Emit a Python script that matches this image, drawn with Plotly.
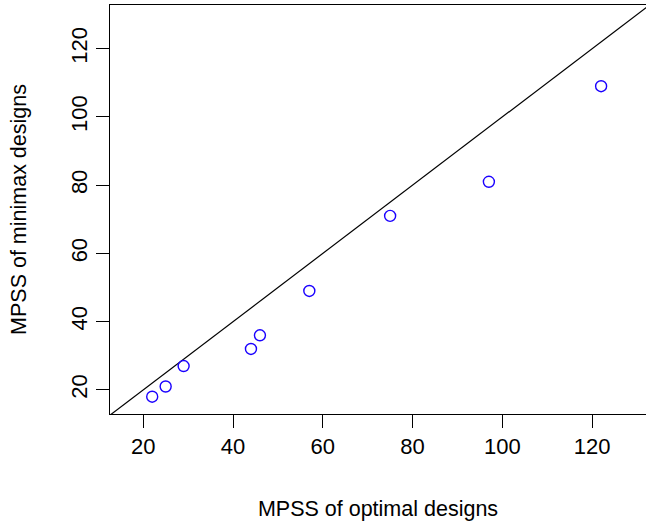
import plotly.graph_objects as go

# MPSS values: optimal designs (x) vs minimax designs (y)
mpss_optimal = [22, 25, 29, 44, 46, 57, 75, 97, 122]
mpss_minimax = [18, 21, 27, 32, 36, 49, 71, 81, 109]

x_range = [12.6, 132.0]
y_range = [12.94, 132.8]
tick_vals = [20, 40, 60, 80, 100, 120]

font_family = "Liberation Sans, Arial, sans-serif"

fig = go.Figure()

# identity reference line y = x spanning the plotting region
lo = min(x_range[0], y_range[0]) - 5
hi = max(x_range[1], y_range[1]) + 5
fig.add_trace(go.Scatter(
    x=[lo, hi], y=[lo, hi], mode="lines",
    line=dict(color="black", width=1.2),
    hoverinfo="skip", showlegend=False,
))

fig.add_trace(go.Scatter(
    x=mpss_optimal, y=mpss_minimax, mode="markers",
    marker=dict(symbol="circle-open", size=11, color="#1a00ff",
                line=dict(width=1.4, color="#1a00ff")),
    showlegend=False,
))

axis_common = dict(
    showgrid=False, zeroline=False,
    showline=True, linecolor="black", linewidth=1, mirror=True,
    ticks="outside", ticklen=13, tickwidth=1, tickcolor="black",
    tickfont=dict(family=font_family, size=22, color="black"),
    tickvals=tick_vals,
)

fig.update_layout(
    width=646, height=524,
    margin=dict(l=110, r=0, t=5, b=110, autoexpand=False),
    paper_bgcolor="white", plot_bgcolor="white",
    font=dict(family=font_family, color="black"),
    xaxis=dict(range=x_range, **axis_common,
               title=dict(text="MPSS of optimal designs",
                          font=dict(family=font_family, size=21.5, color="black"),
                          standoff=42)),
    yaxis=dict(range=y_range, tickangle=-90, **axis_common,
               title=dict(text="MPSS of minimax designs",
                          font=dict(family=font_family, size=21.5, color="black"),
                          standoff=34)),
)

fig.write_html("out.html")
